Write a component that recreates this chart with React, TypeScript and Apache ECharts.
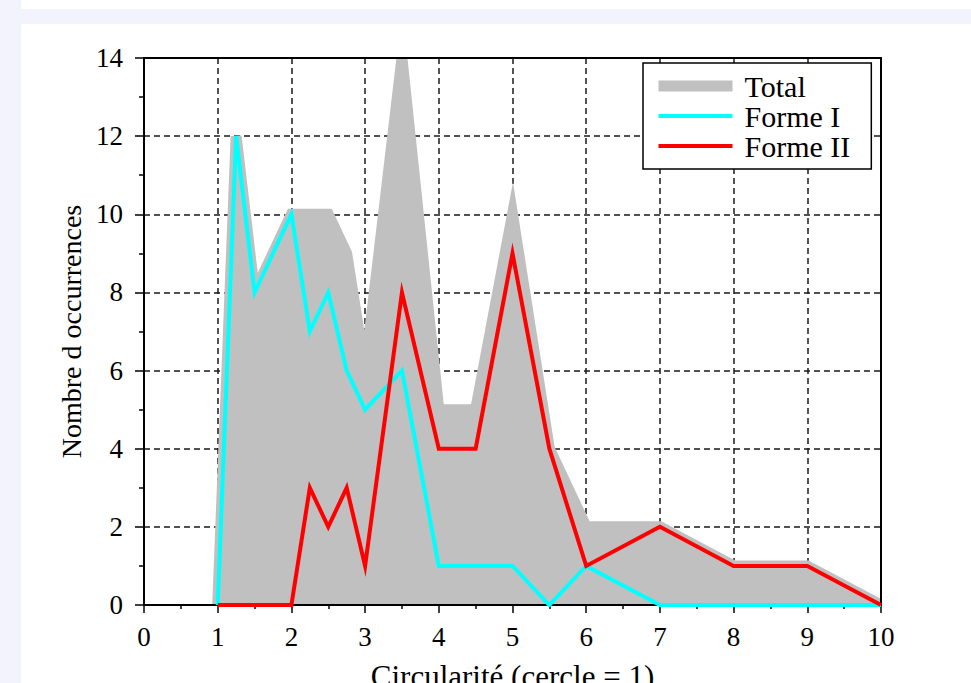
import React, { useEffect, useRef } from 'react';
import * as echarts from 'echarts';

// Circularity classes (x) and occurrence counts
const xValues = [1, 1.25, 1.5, 2, 2.25, 2.5, 2.75, 3, 3.5, 4, 4.5, 5, 5.5, 6, 7, 8, 9, 10];
const totalValues = [0, 12, 8, 10, 10, 10, 9, 6, 14, 5, 5, 10, 4, 2, 2, 1, 1, 0];
const formeIValues = [0, 12, 8, 10, 7, 8, 6, 5, 6, 1, 1, 1, 0, 1, 0, 0, 0, 0];
const formeIIValues = [0, 0, 0, 0, 3, 2, 3, 1, 8, 4, 4, 9, 4, 1, 2, 1, 1, 0];

const seriesNames = ['Total', 'Forme I', 'Forme II'];
const xAxisTitle = 'Circularité (cercle = 1)';
const yAxisTitle = 'Nombre d occurrences';
const xRange = [0, 10];
const yRange = [0, 14];

const FONT = "'Liberation Serif', 'Times New Roman', serif";

export default function App() {
  const ref = useRef<HTMLDivElement>(null);

  useEffect(() => {
    if (!ref.current) return;
    const chart = echarts.init(ref.current, null, { renderer: 'svg' });
    const pts = (ys: number[]) => xValues.map((x, i) => [x, ys[i]]);
    const black = '#000';

    const frameX = (position: 'top' | 'bottom', withLabels: boolean) => ({
      type: 'value',
      min: xRange[0],
      max: xRange[1],
      interval: 1,
      position,
      z: 10,
      axisLine: { show: true, onZero: false, lineStyle: { color: black, width: 2 } },
      axisTick: { show: withLabels, inside: false, length: 8, lineStyle: { color: black, width: 1.5 } },
      minorTick: { show: withLabels, splitNumber: 2, length: 4, lineStyle: { color: black, width: 1.5 } },
      axisLabel: { show: withLabels, margin: 18, color: black, fontFamily: FONT, fontSize: 27 },
      splitLine: { show: false },
      ...(withLabels
        ? {
            name: xAxisTitle,
            nameLocation: 'middle',
            nameGap: 56,
            nameTextStyle: { color: black, fontFamily: FONT, fontSize: 31 },
          }
        : {}),
    });

    const frameY = (position: 'left' | 'right', withLabels: boolean) => ({
      type: 'value',
      min: yRange[0],
      max: yRange[1],
      interval: 2,
      position,
      z: 10,
      axisLine: { show: true, onZero: false, lineStyle: { color: black, width: 2 } },
      axisTick: { show: withLabels, inside: false, length: 9, lineStyle: { color: black, width: 1.5 } },
      minorTick: { show: withLabels, splitNumber: 2, length: 5, lineStyle: { color: black, width: 1.5 } },
      axisLabel: { show: withLabels, margin: 21, color: black, fontFamily: FONT, fontSize: 27 },
      splitLine: { show: false },
      ...(withLabels
        ? {
            name: yAxisTitle,
            nameLocation: 'middle',
            nameRotate: 90,
            nameGap: 48,
            nameTextStyle: { color: black, fontFamily: FONT, fontSize: 28 },
          }
        : {}),
    });

    const dashed = { color: '#1a1a1a', width: 1.5, type: [6, 4] };

    const lineCommon = {
      type: 'line',
      xAxisIndex: 0,
      yAxisIndex: 0,
      symbol: 'none',
      showSymbol: false,
      clip: true,
      silent: true,
    };

    chart.setOption({
      animation: false,
      grid: { left: 144, top: 58, right: 90, bottom: 78, containLabel: false, outerBoundsMode: 'none' },
      xAxis: [
        {
          type: 'value',
          min: xRange[0],
          max: xRange[1],
          interval: 1,
          position: 'bottom',
          z: 0,
          axisLine: { show: false, onZero: false },
          axisTick: { show: false },
          axisLabel: { show: false },
          splitLine: { show: true, lineStyle: dashed },
        },
        frameX('bottom', true),
        frameX('top', false),
      ],
      yAxis: [
        {
          type: 'value',
          min: yRange[0],
          max: yRange[1],
          interval: 2,
          position: 'left',
          z: 0,
          axisLine: { show: false, onZero: false },
          axisTick: { show: false },
          axisLabel: { show: false },
          splitLine: { show: true, lineStyle: dashed },
        },
        frameY('left', true),
        frameY('right', false),
      ],
      legend: {
        data: seriesNames,
        orient: 'vertical',
        left: 643,
        top: 63,
        itemWidth: 74,
        itemHeight: 14,
        itemGap: 0,
        padding: [8, 21, 8, 10],
        borderColor: black,
        borderWidth: 1.5,
        borderRadius: 0,
        backgroundColor: '#fff',
        selectedMode: false,
        z: 12,
        textStyle: { fontFamily: FONT, fontSize: 30, lineHeight: 30, color: black, padding: [0, 0, 0, 7] },
        lineStyle: { width: 'inherit' },
        itemStyle: { opacity: 0, borderWidth: 0 },
      },
      // white masks that trim the thick Total stroke exactly to the plot frame
      graphic: [
        { type: 'rect', z: 5, silent: true, shape: { x: 128, y: 30, width: 780, height: 27 }, style: { fill: '#fff' } },
        { type: 'rect', z: 5, silent: true, shape: { x: 128, y: 606, width: 780, height: 10 }, style: { fill: '#fff' } },
        { type: 'rect', z: 5, silent: true, shape: { x: 882, y: 30, width: 20, height: 586 }, style: { fill: '#fff' } },
      ],
      series: [
        {
          ...lineCommon,
          name: seriesNames[0],
          z: 2,
          data: pts(totalValues),
          lineStyle: { color: '#c0c0c0', width: 11, join: 'miter', miterLimit: 9.5, cap: 'butt' },
          areaStyle: { color: '#c0c0c0', opacity: 1 },
          itemStyle: { color: '#c0c0c0' },
        },
        {
          ...lineCommon,
          name: seriesNames[1],
          z: 11,
          data: pts(formeIValues),
          lineStyle: { color: '#00ffff', width: 4, join: 'miter', miterLimit: 9.5, cap: 'butt' },
          itemStyle: { color: '#00ffff' },
        },
        {
          ...lineCommon,
          name: seriesNames[2],
          z: 11,
          data: pts(formeIIValues),
          lineStyle: { color: '#ff0000', width: 4, join: 'miter', miterLimit: 9.5, cap: 'butt' },
          itemStyle: { color: '#ff0000' },
        },
      ],
    });

    return () => chart.dispose();
  }, []);

  return (
    <div
      style={{
        position: 'fixed',
        left: 0,
        top: 0,
        width: 971,
        height: 683,
        background: '#f3f3fd',
        overflow: 'hidden',
      }}
    >
      <div style={{ position: 'absolute', left: 21, top: 0, width: 950, height: 9, background: '#fff' }} />
      <div style={{ position: 'absolute', left: 21, top: 24, width: 950, height: 659, background: '#fff' }} />
      <div ref={ref} style={{ position: 'absolute', left: 0, top: 0, width: 971, height: 683 }} />
    </div>
  );
}
